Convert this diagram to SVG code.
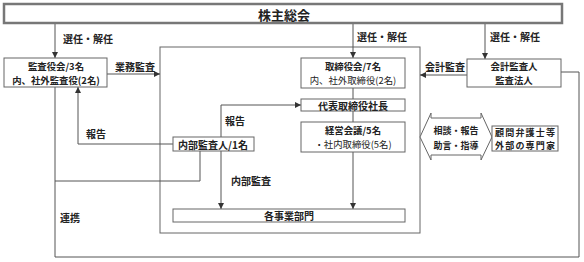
<svg xmlns="http://www.w3.org/2000/svg" width="584" height="262" viewBox="0 0 584 262">
<style>
text{font-family:"Noto Sans CJK JP","Noto Sans",sans-serif;fill:#222;font-size:10px;text-anchor:middle;dominant-baseline:central}
.b{font-weight:bold}
.n{font-weight:normal}
.t2{font-size:9.4px}
.t3{font-size:9px}
.box{fill:#fff;stroke:#666;stroke-width:1}
.ln{fill:none;stroke:#555;stroke-width:1}
.lbl{font-weight:bold;text-anchor:start}
</style>
<defs>
<marker id="ah" markerWidth="6" markerHeight="6" refX="6" refY="3" orient="auto" markerUnits="userSpaceOnUse">
<path d="M0,0 L6,3 L0,6 z" fill="#333"/>
</marker>
</defs>
<rect width="584" height="262" fill="#fff"/>
<g id="frame">
<rect x="160" y="47" width="260" height="186" class="box"/>
</g>
<g id="connectors">
<line x1="55" y1="24" x2="55" y2="58" class="ln" marker-end="url(#ah)"/>
<line x1="353" y1="24" x2="353" y2="58" class="ln" marker-end="url(#ah)"/>
<line x1="485" y1="24" x2="485" y2="59" class="ln" marker-end="url(#ah)"/>
<line x1="107" y1="74" x2="160" y2="74" class="ln" marker-end="url(#ah)"/>
<line x1="467" y1="75" x2="420" y2="75" class="ln" marker-end="url(#ah)"/>
<line x1="353" y1="88" x2="353" y2="99" class="ln"/>
<line x1="353" y1="111" x2="353" y2="122" class="ln"/>
<line x1="353" y1="152" x2="353" y2="209" class="ln" marker-end="url(#ah)"/>
<path d="M221 137 V105 H301" class="ln" marker-end="url(#ah)"/>
<path d="M173 144 H78 V87" class="ln" marker-end="url(#ah)"/>
<line x1="221" y1="151" x2="221" y2="209" class="ln" marker-end="url(#ah)"/>
<path d="M200 151 V181 H55" class="ln"/>
<path d="M55 87 V257 H579 V72 H561" class="ln"/>
<path d="M420 137 L431 113 V118 H481 V113 L492 137 L481 160 V155 H431 V160 Z" fill="#fff" stroke="#666" stroke-width="1"/>
<text x="63" y="38" class="lbl">選任・解任</text>
<text x="357" y="36" class="lbl">選任・解任</text>
<text x="490" y="36" class="lbl">選任・解任</text>
<text x="115" y="66" class="lbl">業務監査</text>
<text x="425" y="66" class="lbl">会計監査</text>
<text x="225" y="120" class="lbl">報告</text>
<text x="86" y="133" class="lbl">報告</text>
<text x="231" y="180" class="lbl">内部監査</text>
<text x="60" y="217" class="lbl">連携</text>
<text x="456" y="130" class="b" style="font-size:9px">相談・報告</text>
<text x="456" y="145" class="b" style="font-size:9px">助言・指導</text>
</g>
<g id="shareholders">
<rect x="4" y="4" width="558" height="19" fill="#fff" stroke="#777" stroke-width="2.5"/>
<text x="284" y="14" class="b" style="font-size:13px">株主総会</text>
</g>
<g id="kansayakukai">
<rect x="4" y="58" width="103" height="29" class="box"/>
<text x="56" y="65.7" class="b t2">監査役会/3名</text>
<text x="56" y="79.5" class="b t2">内、社外監査役(2名)</text>
</g>
<g id="torishimariyakukai">
<rect x="301" y="58" width="104" height="30" class="box"/>
<text x="353" y="66" class="b t2">取締役会/7名</text>
<text x="353" y="80" class="n t2">内、社外取締役(2名)</text>
</g>
<g id="daihyo">
<rect x="301" y="99" width="104" height="12" class="box"/>
<text x="353" y="105" class="b">代表取締役社長</text>
</g>
<g id="keiei">
<rect x="301" y="122" width="104" height="30" class="box"/>
<text x="353" y="130" class="b t2">経営会議/5名</text>
<text x="353" y="144" class="n t2">・社内取締役(5名)</text>
</g>
<g id="naibu">
<rect x="173" y="137" width="81" height="14" class="box"/>
<text x="213" y="144" class="b">内部監査人/1名</text>
</g>
<g id="jigyobu">
<rect x="173" y="209" width="232" height="13" class="box"/>
<text x="289" y="215.5" class="b">各事業部門</text>
</g>
<g id="kaikei">
<rect x="467" y="59" width="94" height="28" class="box"/>
<text x="514" y="66.2" class="b t2">会計監査人</text>
<text x="514" y="80" class="b t2">監査法人</text>
</g>
<g id="komon">
<rect x="492" y="126" width="66" height="25" class="box"/>
<text x="525" y="132" class="b t3" textLength="60" lengthAdjust="spacing">顧問弁護士等</text>
<text x="525" y="145.2" class="b t3" textLength="60" lengthAdjust="spacing">外部の専門家</text>
</g>
</svg>
